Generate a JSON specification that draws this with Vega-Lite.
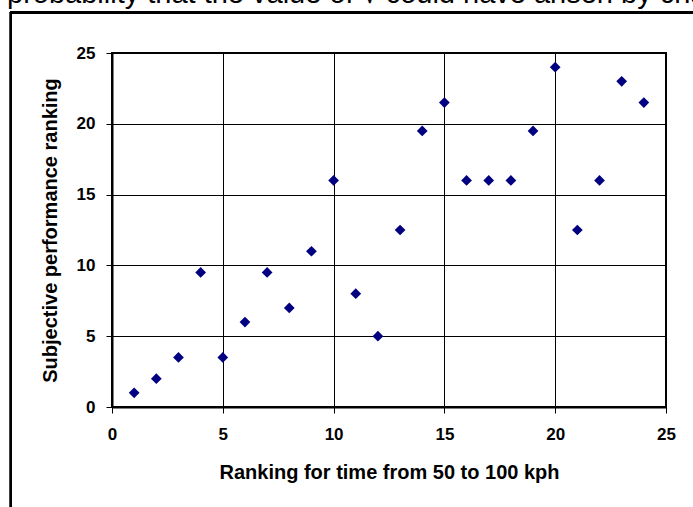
{
  "$schema": "https://vega.github.io/schema/vega-lite/v6.json",
  "width": 554,
  "height": 354,
  "autosize": "none",
  "padding": {"left": 112, "top": 53, "right": 27, "bottom": 100},
  "background": "white",
  "title": {
    "text": "probability that the value of √ could have arisen by chance",
    "anchor": "start",
    "frame": "group",
    "orient": "top",
    "dx": -105,
    "dy": 24,
    "offset": 4,
    "baseline": "alphabetic",
    "font": "Liberation Sans",
    "fontSize": 29,
    "fontWeight": "normal",
    "color": "black"
  },
  "config": {
    "view": {"stroke": "black", "strokeWidth": 2},
    "axis": {
      "labelFont": "Liberation Sans",
      "titleFont": "Liberation Sans",
      "labelFontSize": 17,
      "labelFontWeight": "bold",
      "titleFontSize": 20,
      "titleFontWeight": "bold",
      "labelColor": "black",
      "titleColor": "black",
      "domainColor": "black",
      "domainWidth": 2,
      "tickColor": "black",
      "tickWidth": 1,
      "tickSize": 6,
      "grid": true,
      "gridColor": "black",
      "gridWidth": 1,
      "gridOpacity": 1
    }
  },
  "data": {
    "values": [
      {"time_rank": 1, "subjective": 1},
      {"time_rank": 2, "subjective": 2},
      {"time_rank": 3, "subjective": 3.5},
      {"time_rank": 4, "subjective": 9.5},
      {"time_rank": 5, "subjective": 3.5},
      {"time_rank": 6, "subjective": 6},
      {"time_rank": 7, "subjective": 9.5},
      {"time_rank": 8, "subjective": 7},
      {"time_rank": 9, "subjective": 11},
      {"time_rank": 10, "subjective": 16},
      {"time_rank": 11, "subjective": 8},
      {"time_rank": 12, "subjective": 5},
      {"time_rank": 13, "subjective": 12.5},
      {"time_rank": 14, "subjective": 19.5},
      {"time_rank": 15, "subjective": 21.5},
      {"time_rank": 16, "subjective": 16},
      {"time_rank": 17, "subjective": 16},
      {"time_rank": 18, "subjective": 16},
      {"time_rank": 19, "subjective": 19.5},
      {"time_rank": 20, "subjective": 24},
      {"time_rank": 21, "subjective": 12.5},
      {"time_rank": 22, "subjective": 16},
      {"time_rank": 23, "subjective": 23},
      {"time_rank": 24, "subjective": 21.5}
    ]
  },
  "layer": [
    {
      "mark": {"type": "rect", "fill": null, "stroke": "black", "strokeWidth": 2, "clip": false},
      "encoding": {
        "x": {"datum": -4.56, "type": "quantitative"},
        "x2": {"datum": 30},
        "y": {"datum": 27.85, "type": "quantitative"},
        "y2": {"datum": -12}
      }
    },
    {
      "mark": {"type": "point", "shape": "diamond", "filled": true, "color": "#000080", "size": 115, "opacity": 1},
      "encoding": {
        "x": {
          "field": "time_rank",
          "type": "quantitative",
          "scale": {"domain": [0, 25], "nice": false},
          "axis": {
            "values": [0, 5, 10, 15, 20, 25],
            "title": "Ranking for time from 50 to 100 kph",
            "grid": true,
            "labelPadding": 13,
            "titlePadding": 20,
            "labelFlush": false
          }
        },
        "y": {
          "field": "subjective",
          "type": "quantitative",
          "scale": {"domain": [0, 25], "nice": false},
          "axis": {
            "values": [0, 5, 10, 15, 20, 25],
            "title": "Subjective performance ranking",
            "grid": true,
            "labelPadding": 11,
            "titlePadding": 16,
            "labelFlush": false
          }
        }
      }
    }
  ]
}
